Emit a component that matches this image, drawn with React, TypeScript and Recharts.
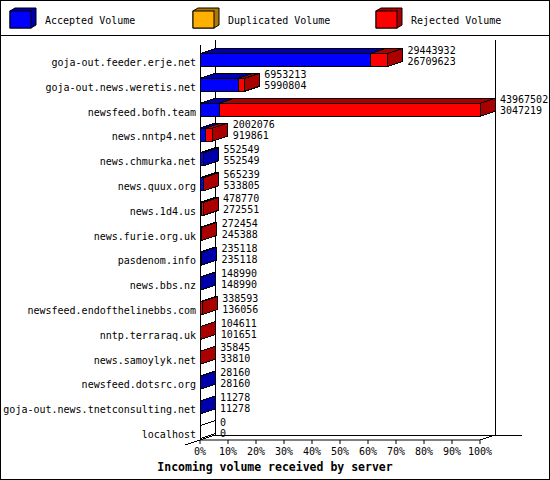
import { Bar, BarChart, XAxis, YAxis } from "recharts"

const servers = [
  "goja-out.feeder.erje.net",
  "goja-out.news.weretis.net",
  "newsfeed.bofh.team",
  "news.nntp4.net",
  "news.chmurka.net",
  "news.quux.org",
  "news.1d4.us",
  "news.furie.org.uk",
  "pasdenom.info",
  "news.bbs.nz",
  "newsfeed.endofthelinebbs.com",
  "nntp.terraraq.uk",
  "news.samoylyk.net",
  "newsfeed.dotsrc.org",
  "goja-out.news.tnetconsulting.net",
  "localhost",
]

// top number of each pair
const totalVolume = [
  29443932, 6953213, 43967502, 2002076, 552549, 565239, 478770, 272454,
  235118, 148990, 338593, 104611, 35845, 28160, 11278, 0,
]

// bottom number of each pair
const acceptedVolume = [
  26709623, 5990804, 3047219, 919861, 552549, 533805, 272551, 245388,
  235118, 148990, 136056, 101651, 33810, 28160, 11278, 0,
]

const duplicatedVolume = [0, 0, 0, 0, 0, 0, 0, 0, 0, 0, 0, 0, 0, 0, 0, 0]

const percentTicks = [0, 10, 20, 30, 40, 50, 60, 70, 80, 90, 100]

const series = [
  { key: "accepted", name: "Accepted Volume", front: "#0000ff", side: "#0000aa" },
  { key: "duplicated", name: "Duplicated Volume", front: "#ffb000", side: "#b07800" },
  { key: "rejected", name: "Rejected Volume", front: "#ff0000", side: "#aa0000" },
]

const data = servers.map((name, i) => ({
  name,
  total: totalVolume[i],
  accepted: acceptedVolume[i],
  duplicated: duplicatedVolume[i],
  rejected: totalVolume[i] - acceptedVolume[i] - duplicatedVolume[i],
}))

const maxVolume = Math.max(...totalVolume)

const W = 550
const H = 480
const PLOT = { left: 200, right: 480, top: 43, bottom: 440 }
const DX = 15
const DY = 5
const SHIFT = 4.6
const FONT = "'DejaVu Sans Mono', monospace"

function make3DBar(idx: number) {
  const s = series[idx]
  return (props: any) => {
    const { x, y, width, height, payload } = props
    const fy = y + SHIFT
    const w = width || 0
    const v = payload[s.key]
    const laterHasValue = series.slice(idx + 1).some((o) => payload[o.key] > 0)
    const empty = payload.total === 0
    const drawEnd = !laterHasValue && (v > 0 || (idx === 0 && empty))
    const ex = x + w
    return (
      <g shapeRendering="crispEdges">
        {v > 0 && (
          <>
            <rect x={x} y={fy} width={w} height={height} fill={s.front} stroke="#000" />
            <polygon
              points={`${x},${fy} ${ex},${fy} ${ex + DX},${fy - DY} ${x + DX},${fy - DY}`}
              fill={s.side}
              stroke="#000"
            />
          </>
        )}
        {drawEnd && (
          <polygon
            points={`${ex},${fy} ${ex + DX},${fy - DY} ${ex + DX},${fy + height - DY} ${ex},${fy + height}`}
            fill={empty ? "#fff" : s.side}
            stroke="#000"
          />
        )}
        {idx === series.length - 1 && (
          <g fontFamily={FONT} fontSize={10} fill="#000">
            <text x={ex + 20} y={fy}>{payload.total}</text>
            <text x={ex + 20} y={fy + 11}>{payload.accepted}</text>
          </g>
        )}
      </g>
    )
  }
}

const barShapes = series.map((_, i) => make3DBar(i))

function ServerTick(props: any) {
  const { x, y, payload } = props
  return (
    <text x={x} y={y + 10.5} textAnchor="end" fontFamily={FONT} fontSize={10} fill="#000">
      {payload.value}
    </text>
  )
}

function Frame() {
  const backTop = PLOT.top - 3
  const floorY = PLOT.bottom - DY
  return (
    <svg width={W} height={H} style={{ position: "absolute", left: 0, top: 0 }}>
      <rect x={0.5} y={0.5} width={W - 1} height={H - 1} fill="#fff" stroke="#000" />
      <line x1={0} y1={35.5} x2={W} y2={35.5} stroke="#000" />
      {series.map((s, i) => {
        const bx = 10 + i * 183
        return (
          <g key={s.key}>
            <polygon
              points={`${bx},11 ${bx + 5},8 ${bx + 26},8 ${bx + 26},25 ${bx + 21},28 ${bx},28`}
              fill={s.side}
              stroke="#000"
            />
            <rect x={bx} y={11} width={21} height={17} fill={s.front} stroke="#000" />
            <text x={bx + 35} y={24} fontFamily={FONT} fontSize={10} fill="#000">
              {s.name}
            </text>
          </g>
        )
      })}
      <g stroke="#000" shapeRendering="crispEdges">
        <line x1={PLOT.left + DX + 0.5} y1={backTop} x2={PLOT.left + DX + 0.5} y2={floorY} />
        <line x1={PLOT.right + DX + 0.5} y1={backTop} x2={PLOT.right + DX + 0.5} y2={floorY} />
        <line x1={PLOT.left + DX} y1={floorY + 0.5} x2={PLOT.right + DX + 27} y2={floorY + 0.5} />
        <line x1={PLOT.left + 0.5} y1={PLOT.top + 2} x2={PLOT.left + 0.5} y2={PLOT.bottom} />
        <line x1={PLOT.left - DX} y1={PLOT.bottom + DY} x2={PLOT.left + DX} y2={floorY} />
        <line x1={PLOT.right} y1={PLOT.bottom} x2={PLOT.right + DX} y2={floorY} />
      </g>
      <text
        x={275}
        y={471}
        textAnchor="middle"
        fontFamily={FONT}
        fontWeight="bold"
        fontSize={11.5}
        fill="#000"
      >
        Incoming volume received by server
      </text>
    </svg>
  )
}

export default function App() {
  return (
    <div style={{ position: "absolute", left: 0, top: 0, width: W, height: H }}>
      <Frame />
      <div style={{ position: "absolute", left: 0, top: 0 }}>
        <BarChart
          width={W}
          height={H}
          data={data}
          layout="vertical"
          barSize={13}
          margin={{ top: PLOT.top, right: W - PLOT.right, bottom: 20, left: 0 }}
        >
          <XAxis
            type="number"
            domain={[0, maxVolume]}
            ticks={percentTicks.map((p) => (p / 100) * maxVolume)}
            tickFormatter={(v: number) => `${Math.round((v / maxVolume) * 100)}%`}
            height={20}
            stroke="#000"
            tickSize={4}
            tickMargin={4}
            tick={{ fontFamily: FONT, fontSize: 10, fill: "#000" }}
            interval={0}
          />
          <YAxis
            type="category"
            dataKey="name"
            width={PLOT.left}
            axisLine={false}
            tickLine={false}
            tickSize={0}
            tickMargin={4}
            interval={0}
            tick={<ServerTick />}
          />
          {series.map((s, i) => (
            <Bar
              key={s.key}
              dataKey={s.key}
              name={s.name}
              stackId="volume"
              fill={s.front}
              shape={barShapes[i]}
              isAnimationActive={false}
            />
          ))}
        </BarChart>
      </div>
    </div>
  )
}
